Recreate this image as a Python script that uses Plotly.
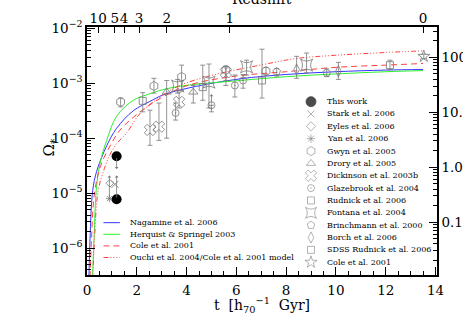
import numpy as np
import plotly.graph_objects as go

FONT = 'DejaVu Serif'
GRAY = '#777777'

# ---- model curves: cosmic time [Gyr] and log10(Omega_*) ----
nagamine_t = [0.06, 0.12, 0.23, 0.39, 0.79, 1.19, 1.86, 2.53, 3.07, 4.14, 6.15, 8.0, 10.0, 12.0, 13.5]
nagamine_lg = [-6.9, -5.85, -4.95, -4.6, -4.14, -3.82, -3.5, -3.33, -3.21, -3.08, -2.92, -2.84, -2.79, -2.76, -2.75]

hernquist_t = [0.2, 0.28, 0.39, 0.55, 0.79, 1.19, 1.86, 2.53, 3.2, 4.14, 6.15, 8.0, 10.0, 12.0, 13.5]
hernquist_lg = [-6.9, -5.85, -4.85, -4.4, -4.04, -3.6, -3.31, -3.19, -3.1, -3.03, -2.95, -2.88, -2.83, -2.79, -2.77]

cole_t = [0.1, 0.18, 0.3, 0.55, 0.95, 1.33, 1.86, 2.4, 3.0, 3.73, 4.54, 6.15, 8.0, 10.0, 12.0, 13.5]
cole_lg = [-6.9, -5.85, -5.0, -4.5, -4.12, -3.85, -3.62, -3.43, -3.26, -3.09, -2.98, -2.86, -2.79, -2.71, -2.67, -2.64]

ouchi_t = [0.2, 0.3, 0.45, 0.7, 0.92, 1.19, 1.6, 2.13, 2.93, 3.73, 5.07, 7.07, 8.4, 10.0, 12.0, 13.5]
ouchi_lg = [-6.9, -5.85, -4.95, -4.55, -4.3, -4.1, -3.9, -3.55, -3.25, -3.04, -2.85, -2.66, -2.55, -2.49, -2.44, -2.41]

# ---- observations: t, log10 value, upper / lower end of error bar ----
gwyn_t = [1.35, 2.69, 3.80, 5.58, 7.19]
gwyn_lg = [-3.34, -3.05, -2.885, -2.76, -2.78]
gwyn_hi = [-3.27, -2.91, -2.67, -2.69, -2.71]
gwyn_lo = [-3.43, -3.18, -3.13, -3.04, -2.85]

rudnick_t = [2.24, 4.65, 7.03]
rudnick_lg = [-3.32, -3.07, -2.95]
rudnick_hi = [-3.17, -2.67, -2.38]
rudnick_lo = [-3.52, -3.31, -3.27]

sdss_t = [12.17]
sdss_lg = [-2.67]
sdss_hi = [-2.58]
sdss_lo = [-2.75]

drory_t = [3.2, 4.27]
drory_lg = [-3.16, -3.16]
drory_hi = [-2.95, -3.04]
drory_lo = [-4.0, -3.36]

dickinson_t = [2.53, 2.89, 3.7, 5.58]
dickinson_lg = [-3.85, -3.79, -3.34, -2.8]
dickinson_hi = [-3.49, -3.36, -3.16, -2.69]
dickinson_lo = [-4.13, -4.04, -3.45, -2.95]

glazebrook_t = [3.56, 5.0, 5.94, 6.27]
glazebrook_lg = [-3.54, -3.4, -3.04, -2.95]
glazebrook_hi = [-3.36, -3.4, -2.85, -2.84]
glazebrook_lo = [-3.67, -3.52, -3.25, -3.09]

fontana_t = [3.64, 4.9, 6.41, 8.82]
fontana_lg = [-3.05, -2.98, -2.70, -2.67]
fontana_hi = [-2.93, -2.65, -2.58, -2.45]
fontana_lo = [-3.18, -3.45, -2.85, -2.81]

brinchmann_t = [7.62, 9.63]
brinchmann_lg = [-2.79, -2.81]
brinchmann_hi = [-2.73, -2.74]
brinchmann_lo = [-2.87, -2.88]

borch_t = [8.42, 10.1]
borch_lg = [-2.75, -2.78]
borch_hi = [-2.51, -2.62]
borch_lo = [-2.91, -2.93]

cole01_t = [13.53]
cole01_lg = [-2.51]
cole01_hi = [-2.47]
cole01_lo = [-2.55]

stark_t = [1.12]
stark_lg = [-4.84]
eyles_t = [0.92]
eyles_lg = [-4.82]
yan_t = [0.9]
yan_lg = [-5.1]
thiswork_t = [1.19, 1.19]
thiswork_lg = [-4.33, -5.11]

# limits: (t, log10 start, log10 arrow head)
limit_t = [1.19, 1.19, 0.9, 5.0]
limit_from = [-4.33, -5.11, -5.1, -3.4]
limit_to = [-4.56, -4.68, -4.68, -3.2]

# redshift axis
z_labels = ['10', '5', '4', '3', '2', '1', '0']
z_times = [0.45, 1.12, 1.49, 2.09, 3.21, 5.74, 13.5]

fig = go.Figure()

# model lines
curves = [
    (nagamine_t, nagamine_lg, 'Nagamine et al. 2006', '#3535ff', 'solid'),
    (hernquist_t, hernquist_lg, 'Herquist & Springel 2003', '#30f030', 'solid'),
    (cole_t, cole_lg, 'Cole et al. 2001', '#ff4040', '6px,4px'),
    (ouchi_t, ouchi_lg, 'Ouchi et al. 2004/Cole et al. 2001 model', '#ff4040', '5px,2px,1px,2px,1px,2px,1px,2px'),
]
for t, lg, name, col, dash in curves:
    fig.add_trace(go.Scatter(x=t, y=10 ** np.array(lg), mode='lines', line=dict(color=col, width=1, dash=dash),
                             line_shape='spline', showlegend=False, hoverinfo='skip'))


def errs(lg, hi, lo):
    v = 10 ** np.array(lg)
    return v, 10 ** np.array(hi) - v, v - 10 ** np.array(lo)


obs = [
    (gwyn_t, gwyn_lg, gwyn_hi, gwyn_lo, 'hexagon-open', 9),
    (rudnick_t, rudnick_lg, rudnick_hi, rudnick_lo, 'square-open', 7),
    (sdss_t, sdss_lg, sdss_hi, sdss_lo, 'square-open', 7),
    (drory_t, drory_lg, drory_hi, drory_lo, 'triangle-up-open', 8),
    (dickinson_t, dickinson_lg, dickinson_hi, dickinson_lo, 'x-open', 10),
    (glazebrook_t, glazebrook_lg, glazebrook_hi, glazebrook_lo, 'circle-open-dot', 7),
    (fontana_t, fontana_lg, fontana_hi, fontana_lo, 'star-square-open', 11),
    (brinchmann_t, brinchmann_lg, brinchmann_hi, brinchmann_lo, 'pentagon-open', 8),
    (borch_t, borch_lg, borch_hi, borch_lo, 'diamond-tall-open', 8),
    (cole01_t, cole01_lg, cole01_hi, cole01_lo, 'star-open', 9),
]
for t, lg, hi, lo, sym, sz in obs:
    v, ep, em = errs(lg, hi, lo)
    fig.add_trace(go.Scatter(
        x=t, y=v, mode='markers',
        marker=dict(symbol=sym, size=sz, color=GRAY, line=dict(color=GRAY, width=0.8)),
        error_y=dict(type='data', array=ep, arrayminus=em, color=GRAY, thickness=0.8, width=2.5),
        showlegend=False, hoverinfo='skip'))

for t, lg, sym, sz in [(stark_t, stark_lg, 'x-thin-open', 7), (eyles_t, eyles_lg, 'diamond-open', 6),
                       (yan_t, yan_lg, 'asterisk-open', 6)]:
    fig.add_trace(go.Scatter(x=t, y=10 ** np.array(lg), mode='markers',
                             marker=dict(symbol=sym, size=sz, color=GRAY, line=dict(color=GRAY, width=0.8)),
                             showlegend=False, hoverinfo='skip'))

fig.add_trace(go.Scatter(x=thiswork_t, y=10 ** np.array(thiswork_lg), mode='markers',
                         marker=dict(symbol='circle', size=10, color='black'),
                         showlegend=False, hoverinfo='skip'))

for t, a, b in zip(limit_t, limit_from, limit_to):
    fig.add_annotation(x=t, y=b, ax=t, ay=a, xref='x', yref='y', axref='x', ayref='y', text='',
                       showarrow=True, arrowhead=1, arrowsize=0.8, arrowwidth=0.8, arrowcolor=GRAY)

# empty trace to create the top/right axes
fig.add_trace(go.Scatter(x=[], y=[], xaxis='x2', yaxis='y2', showlegend=False))

# ---- hand made legends ----
leg_names = ['This work', 'Stark et al. 2006', 'Eyles et al. 2006', 'Yan et al. 2006', 'Gwyn et al. 2005',
             'Drory et al. 2005', 'Dickinson et al. 2003b', 'Glazebrook et al. 2004', 'Rudnick et al. 2006',
             'Fontana et al. 2004', 'Brinchmann et al. 2000', 'Borch et al. 2006', 'SDSS Rudnick et al. 2006',
             'Cole et al. 2001']
leg_syms = ['circle', 'x-thin-open', 'diamond-open', 'asterisk-open', 'hexagon-open', 'triangle-up-open',
            'x-open', 'circle-open-dot', 'square-open', 'star-square-open', 'pentagon-open', 'diamond-tall-open',
            'square-open', 'star-open']
leg_sizes = [10, 7, 7, 7, 9, 8, 10, 7, 7, 10, 8, 8, 7, 9]
leg_cols = ['black'] + [GRAY] * 13

lx, ltx, ly0, ldy = 0.64, 0.68, 0.699, 0.0498
ly = [ly0 - i * ldy for i in range(len(leg_names))]
fig.add_trace(go.Scatter(x=[lx] * len(leg_names), y=ly, xaxis='x3', yaxis='y3', mode='markers',
                         marker=dict(symbol=leg_syms, size=leg_sizes, color=leg_cols,
                                     line=dict(color=leg_cols, width=0.8)),
                         showlegend=False, hoverinfo='skip'))
for name, y in zip(leg_names, ly):
    fig.add_annotation(x=ltx, y=y, xref='paper', yref='paper', text=name, showarrow=False,
                       xanchor='left', yanchor='middle', font=dict(family=FONT, size=8, color='black'))

cy0, cdy = 0.211, 0.0468
for i, (t, lg, name, col, dash) in enumerate(curves):
    y = cy0 - i * cdy
    fig.add_shape(type='line', xref='paper', yref='paper', x0=0.047, x1=0.094, y0=y, y1=y,
                  line=dict(color=col, width=1, dash=dash))
    fig.add_annotation(x=0.116, y=y, xref='paper', yref='paper', text=name, showarrow=False,
                       xanchor='left', yanchor='middle', font=dict(family=FONT, size=8, color='black'))

# ---- axes ----
decades = [1e-6, 1e-5, 1e-4, 1e-3, 1e-2]
minor_left = [m * 10.0 ** e for e in range(-7, -1) for m in range(2, 10)]
minor_right = [m * 10.0 ** e for e in range(-2, 3) for m in range(2, 10)]
tickfont = dict(family=FONT, size=13.5, color='black')
common = dict(showgrid=False, zeroline=False, showline=True, linecolor='black', linewidth=1.5,
              ticks='inside', tickcolor='black', tickwidth=1, tickfont=tickfont, automargin=False,
              tickangle=0)

fig.update_layout(
    width=463, height=331,
    margin=dict(l=87, r=26, t=27, b=56),
    paper_bgcolor='white', plot_bgcolor='white',
    showlegend=False,
    xaxis=dict(range=[0, 14.06], tick0=0, dtick=2, ticklen=8, ticklabelstandoff=2,
               minor=dict(dtick=0.5, tick0=0, ticks='inside', ticklen=4, tickcolor='black'), **common),
    xaxis2=dict(range=[0, 14.06], overlaying='x', side='top', tickmode='array', tickvals=z_times,
                ticktext=z_labels, ticklen=6, ticklabelstandoff=-3, **common),
    xaxis3=dict(range=[0, 1], overlaying='x', visible=False),
    yaxis=dict(type='log', range=[-6.49, -1.976], tickmode='array', tickvals=decades,
               ticktext=['10<sup>−6</sup>', '10<sup>−5</sup>', '10<sup>−4</sup>', '10<sup>−3</sup>',
                         '10<sup>−2</sup>'],
               ticklen=8, minor=dict(tickmode='array', tickvals=minor_left, ticks='inside', ticklen=4,
                                     tickcolor='black'), **common),
    yaxis2=dict(type='log', range=[-1.963, 2.551], overlaying='y', side='right', tickmode='array',
                tickvals=[0.1, 1, 10, 100], ticktext=['0.10', '1.00', '10.00', '100.0'], ticklen=8,
                minor=dict(tickmode='array', tickvals=minor_right, ticks='inside', ticklen=4,
                           tickcolor='black'), **common),
    yaxis3=dict(range=[0, 1], overlaying='y', visible=False),
)

fig.add_annotation(x=0.5, y=-0.17, xref='paper', yref='paper', showarrow=False,
                   text='t  [h<sub>70</sub><sup>−1</sup>  Gyr]', font=dict(family=FONT, size=14, color='black'))
fig.add_annotation(x=-0.14, y=0.516, xref='paper', yref='paper', showarrow=False, textangle=-90,
                   text='Ω<sub>*</sub>', font=dict(family=FONT, size=15, color='black'))
fig.add_annotation(x=0.5, y=1.072, xref='paper', yref='paper', showarrow=False, yanchor='bottom',
                   text='Redshift', font=dict(family=FONT, size=14, color='black'))

# the page body has a default 8px margin; drop it so the figure sits at the window corner
fig.write_html('out.html', config={'displayModeBar': False},
               post_script="document.body.style.margin='0px';")
